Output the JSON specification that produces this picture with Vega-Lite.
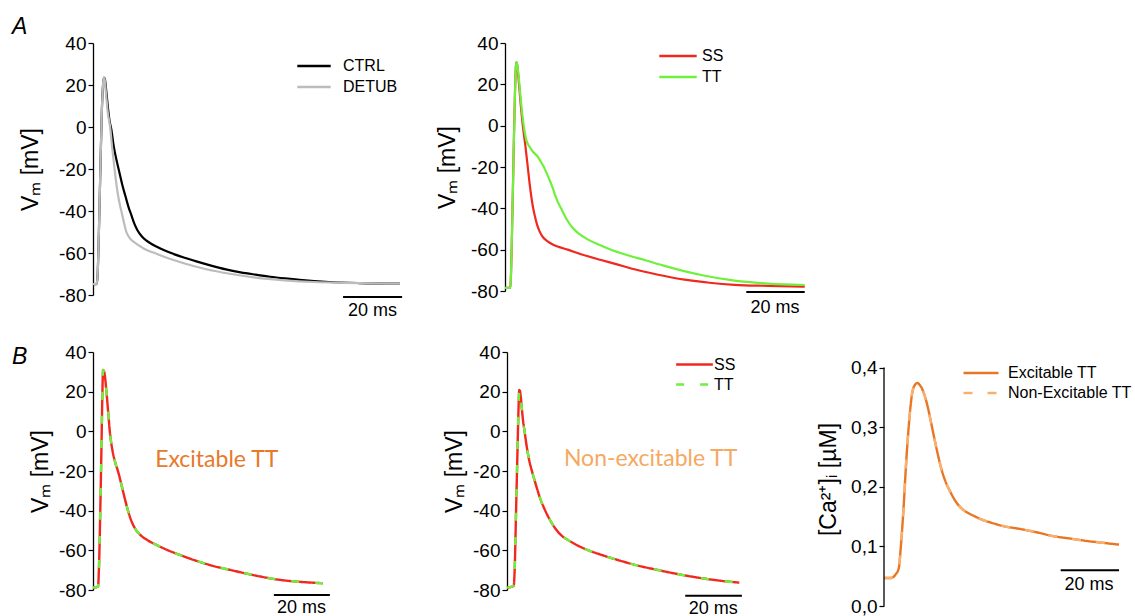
{
  "$schema": "https://vega.github.io/schema/vega-lite/v6.json",
  "padding": {"left": 12, "top": 16, "right": 0, "bottom": 0},
  "background": "white",
  "config": {
    "view": {"stroke": null},
    "axis": {
      "labelFont": "Liberation Sans", "labelFontSize": 19, "labelColor": "#000", "labelOverlap": false,
      "titleFont": "Liberation Sans", "titleFontSize": 23, "titleFontWeight": "normal", "titleColor": "#000",
      "domainColor": "#000", "domainWidth": 1.3, "tickColor": "#000", "tickWidth": 1.2, "tickSize": 5,
      "labelPadding": 2, "grid": false
    },
    "legend": {
      "labelFont": "Liberation Sans", "labelFontSize": 16, "labelColor": "#000",
      "symbolStrokeWidth": 2.5, "padding": 0, "offset": 0, "title": null
    },
    "title": {"font": "Liberation Sans", "fontSize": 23, "fontStyle": "italic", "fontWeight": "normal", "color": "#000", "anchor": "start", "frame": "group", "offset": 0, "baseline": "alphabetic"}
  },
  "datasets": {
    "a1": [
      {"series": "CTRL", "t": 0, "v": -74.8}, {"series": "CTRL", "t": 1.2, "v": -74.8}, {"series": "CTRL", "t": 1.5, "v": -72}, {"series": "CTRL", "t": 2.0, "v": -50}, {"series": "CTRL", "t": 2.5, "v": -20}, {"series": "CTRL", "t": 3.0, "v": 8}, {"series": "CTRL", "t": 3.4, "v": 20}, {"series": "CTRL", "t": 3.7, "v": 23.5}, {"series": "CTRL", "t": 4.0, "v": 23}, {"series": "CTRL", "t": 4.5, "v": 17}, {"series": "CTRL", "t": 5.0, "v": 10}, {"series": "CTRL", "t": 5.6, "v": 3}, {"series": "CTRL", "t": 6.2, "v": -1}, {"series": "CTRL", "t": 7.0, "v": -9}, {"series": "CTRL", "t": 8.0, "v": -16}, {"series": "CTRL", "t": 9.0, "v": -22}, {"series": "CTRL", "t": 10.0, "v": -28}, {"series": "CTRL", "t": 11.0, "v": -33}, {"series": "CTRL", "t": 12.0, "v": -38}, {"series": "CTRL", "t": 13.0, "v": -42}, {"series": "CTRL", "t": 14.0, "v": -46}, {"series": "CTRL", "t": 15.0, "v": -49}, {"series": "CTRL", "t": 16.5, "v": -52}, {"series": "CTRL", "t": 18.0, "v": -54}, {"series": "CTRL", "t": 20.0, "v": -55.8}, {"series": "CTRL", "t": 23.0, "v": -58}, {"series": "CTRL", "t": 26.0, "v": -59.8}, {"series": "CTRL", "t": 30.0, "v": -61.8}, {"series": "CTRL", "t": 35.0, "v": -64}, {"series": "CTRL", "t": 40.0, "v": -66}, {"series": "CTRL", "t": 45.0, "v": -67.8}, {"series": "CTRL", "t": 50.0, "v": -69.2}, {"series": "CTRL", "t": 55.0, "v": -70.3}, {"series": "CTRL", "t": 60.0, "v": -71.3}, {"series": "CTRL", "t": 65.0, "v": -72.1}, {"series": "CTRL", "t": 70.0, "v": -72.8}, {"series": "CTRL", "t": 80.0, "v": -73.8}, {"series": "CTRL", "t": 90.0, "v": -74.3}, {"series": "CTRL", "t": 104.0, "v": -74.6},
      {"series": "DETUB", "t": 0, "v": -74.8}, {"series": "DETUB", "t": 1.2, "v": -74.8}, {"series": "DETUB", "t": 1.5, "v": -72}, {"series": "DETUB", "t": 2.0, "v": -50}, {"series": "DETUB", "t": 2.5, "v": -20}, {"series": "DETUB", "t": 3.0, "v": 8}, {"series": "DETUB", "t": 3.4, "v": 20}, {"series": "DETUB", "t": 3.6, "v": 23.5}, {"series": "DETUB", "t": 3.9, "v": 23}, {"series": "DETUB", "t": 4.4, "v": 16}, {"series": "DETUB", "t": 5.0, "v": 7}, {"series": "DETUB", "t": 5.8, "v": 0}, {"series": "DETUB", "t": 6.5, "v": -10}, {"series": "DETUB", "t": 7.3, "v": -20}, {"series": "DETUB", "t": 8.0, "v": -28}, {"series": "DETUB", "t": 8.8, "v": -35}, {"series": "DETUB", "t": 9.6, "v": -40}, {"series": "DETUB", "t": 10.4, "v": -45}, {"series": "DETUB", "t": 11.3, "v": -50}, {"series": "DETUB", "t": 12.5, "v": -53}, {"series": "DETUB", "t": 14.1, "v": -55}, {"series": "DETUB", "t": 16.0, "v": -56.8}, {"series": "DETUB", "t": 18.0, "v": -58.5}, {"series": "DETUB", "t": 20.9, "v": -60}, {"series": "DETUB", "t": 25.0, "v": -62.3}, {"series": "DETUB", "t": 31.0, "v": -65}, {"series": "DETUB", "t": 38.0, "v": -67.6}, {"series": "DETUB", "t": 46.9, "v": -70}, {"series": "DETUB", "t": 55.0, "v": -71.7}, {"series": "DETUB", "t": 65.0, "v": -73}, {"series": "DETUB", "t": 75.0, "v": -73.8}, {"series": "DETUB", "t": 85.0, "v": -74.2}, {"series": "DETUB", "t": 104.0, "v": -74.6}
    ],
    "a2": [
      {"series": "SS", "t": 0, "v": -78.5}, {"series": "SS", "t": 1.8, "v": -78.5}, {"series": "SS", "t": 2.0, "v": -74}, {"series": "SS", "t": 2.5, "v": -45}, {"series": "SS", "t": 3.0, "v": -10}, {"series": "SS", "t": 3.4, "v": 15}, {"series": "SS", "t": 3.7, "v": 28}, {"series": "SS", "t": 3.9, "v": 30.8}, {"series": "SS", "t": 4.2, "v": 29}, {"series": "SS", "t": 4.8, "v": 20}, {"series": "SS", "t": 5.4, "v": 10}, {"series": "SS", "t": 6.1, "v": 0}, {"series": "SS", "t": 7.0, "v": -10}, {"series": "SS", "t": 7.8, "v": -20}, {"series": "SS", "t": 8.6, "v": -30}, {"series": "SS", "t": 9.4, "v": -38}, {"series": "SS", "t": 10.1, "v": -43}, {"series": "SS", "t": 11.0, "v": -48}, {"series": "SS", "t": 11.8, "v": -51}, {"series": "SS", "t": 13.0, "v": -54}, {"series": "SS", "t": 14.6, "v": -56}, {"series": "SS", "t": 16.5, "v": -57.6}, {"series": "SS", "t": 18.0, "v": -58.5}, {"series": "SS", "t": 21.5, "v": -60}, {"series": "SS", "t": 26.0, "v": -62.2}, {"series": "SS", "t": 32.9, "v": -65}, {"series": "SS", "t": 38.0, "v": -67}, {"series": "SS", "t": 44.3, "v": -69.5}, {"series": "SS", "t": 52.0, "v": -72}, {"series": "SS", "t": 61.5, "v": -74.5}, {"series": "SS", "t": 70.0, "v": -76}, {"series": "SS", "t": 78.6, "v": -77}, {"series": "SS", "t": 90.0, "v": -77.5}, {"series": "SS", "t": 102.6, "v": -77.9},
      {"series": "TT", "t": 0, "v": -78.5}, {"series": "TT", "t": 1.8, "v": -78.5}, {"series": "TT", "t": 2.0, "v": -74}, {"series": "TT", "t": 2.5, "v": -45}, {"series": "TT", "t": 3.0, "v": -10}, {"series": "TT", "t": 3.4, "v": 15}, {"series": "TT", "t": 3.7, "v": 28}, {"series": "TT", "t": 3.9, "v": 30.8}, {"series": "TT", "t": 4.2, "v": 29.5}, {"series": "TT", "t": 4.8, "v": 22}, {"series": "TT", "t": 5.5, "v": 11}, {"series": "TT", "t": 6.4, "v": 0}, {"series": "TT", "t": 7.3, "v": -7}, {"series": "TT", "t": 8.3, "v": -10}, {"series": "TT", "t": 9.5, "v": -12.5}, {"series": "TT", "t": 11.2, "v": -15}, {"series": "TT", "t": 12.3, "v": -17.5}, {"series": "TT", "t": 13.3, "v": -20}, {"series": "TT", "t": 14.1, "v": -22.5}, {"series": "TT", "t": 14.9, "v": -25}, {"series": "TT", "t": 15.6, "v": -27.5}, {"series": "TT", "t": 16.3, "v": -30}, {"series": "TT", "t": 17.0, "v": -33}, {"series": "TT", "t": 17.8, "v": -36}, {"series": "TT", "t": 19.2, "v": -40}, {"series": "TT", "t": 21.2, "v": -45.5}, {"series": "TT", "t": 23.2, "v": -49.5}, {"series": "TT", "t": 25.5, "v": -52.5}, {"series": "TT", "t": 28.3, "v": -55}, {"series": "TT", "t": 32.0, "v": -57.5}, {"series": "TT", "t": 36.3, "v": -60}, {"series": "TT", "t": 42.0, "v": -62.7}, {"series": "TT", "t": 47.8, "v": -65}, {"series": "TT", "t": 54.0, "v": -67.6}, {"series": "TT", "t": 60.3, "v": -70}, {"series": "TT", "t": 68.0, "v": -72.5}, {"series": "TT", "t": 78.6, "v": -75}, {"series": "TT", "t": 90.0, "v": -76.4}, {"series": "TT", "t": 102.6, "v": -77.1}
    ],
    "b1": [
      {"series": "SS", "t": 0, "v": -78.8}, {"series": "SS", "t": 1.8, "v": -78.3}, {"series": "SS", "t": 2.1, "v": -70}, {"series": "SS", "t": 2.6, "v": -40}, {"series": "SS", "t": 3.0, "v": -10}, {"series": "SS", "t": 3.3, "v": 15}, {"series": "SS", "t": 3.6, "v": 30.9}, {"series": "SS", "t": 4.0, "v": 30}, {"series": "SS", "t": 4.8, "v": 20}, {"series": "SS", "t": 5.4, "v": 10}, {"series": "SS", "t": 6.0, "v": 0}, {"series": "SS", "t": 7.0, "v": -10}, {"series": "SS", "t": 8.0, "v": -16}, {"series": "SS", "t": 8.9, "v": -20}, {"series": "SS", "t": 10.0, "v": -26}, {"series": "SS", "t": 11.2, "v": -33}, {"series": "SS", "t": 12.5, "v": -40}, {"series": "SS", "t": 13.8, "v": -45.5}, {"series": "SS", "t": 15.5, "v": -50}, {"series": "SS", "t": 17.5, "v": -53}, {"series": "SS", "t": 19.6, "v": -55}, {"series": "SS", "t": 23.0, "v": -57.5}, {"series": "SS", "t": 26.8, "v": -60}, {"series": "SS", "t": 31.0, "v": -62.3}, {"series": "SS", "t": 36.3, "v": -65}, {"series": "SS", "t": 42.5, "v": -67.7}, {"series": "SS", "t": 49.4, "v": -70}, {"series": "SS", "t": 58.0, "v": -72.7}, {"series": "SS", "t": 67.3, "v": -75}, {"series": "SS", "t": 75.0, "v": -76}, {"series": "SS", "t": 82.1, "v": -76.6},
      {"series": "TT", "t": 0, "v": -78.8}, {"series": "TT", "t": 1.8, "v": -78.3}, {"series": "TT", "t": 2.1, "v": -70}, {"series": "TT", "t": 2.6, "v": -40}, {"series": "TT", "t": 3.0, "v": -10}, {"series": "TT", "t": 3.3, "v": 15}, {"series": "TT", "t": 3.6, "v": 30.9}, {"series": "TT", "t": 4.0, "v": 30}, {"series": "TT", "t": 4.8, "v": 20}, {"series": "TT", "t": 5.4, "v": 10}, {"series": "TT", "t": 6.0, "v": 0}, {"series": "TT", "t": 7.0, "v": -10}, {"series": "TT", "t": 8.0, "v": -16}, {"series": "TT", "t": 8.9, "v": -20}, {"series": "TT", "t": 10.0, "v": -26}, {"series": "TT", "t": 11.2, "v": -33}, {"series": "TT", "t": 12.5, "v": -40}, {"series": "TT", "t": 13.8, "v": -45.5}, {"series": "TT", "t": 15.5, "v": -50}, {"series": "TT", "t": 17.5, "v": -53}, {"series": "TT", "t": 19.6, "v": -55}, {"series": "TT", "t": 23.0, "v": -57.5}, {"series": "TT", "t": 26.8, "v": -60}, {"series": "TT", "t": 31.0, "v": -62.3}, {"series": "TT", "t": 36.3, "v": -65}, {"series": "TT", "t": 42.5, "v": -67.7}, {"series": "TT", "t": 49.4, "v": -70}, {"series": "TT", "t": 58.0, "v": -72.7}, {"series": "TT", "t": 67.3, "v": -75}, {"series": "TT", "t": 75.0, "v": -76}, {"series": "TT", "t": 82.1, "v": -76.6}
    ],
    "b2": [
      {"series": "SS", "t": 0, "v": -78.8}, {"series": "SS", "t": 2.35, "v": -78}, {"series": "SS", "t": 2.7, "v": -70}, {"series": "SS", "t": 3.2, "v": -40}, {"series": "SS", "t": 3.7, "v": -10}, {"series": "SS", "t": 4.0, "v": 8}, {"series": "SS", "t": 4.35, "v": 20.9}, {"series": "SS", "t": 4.7, "v": 19.5}, {"series": "SS", "t": 5.2, "v": 12}, {"series": "SS", "t": 5.7, "v": 5}, {"series": "SS", "t": 6.2, "v": 0}, {"series": "SS", "t": 7.0, "v": -8}, {"series": "SS", "t": 7.9, "v": -15}, {"series": "SS", "t": 8.8, "v": -20}, {"series": "SS", "t": 10.0, "v": -26}, {"series": "SS", "t": 11.5, "v": -33}, {"series": "SS", "t": 13.5, "v": -40}, {"series": "SS", "t": 15.5, "v": -45.5}, {"series": "SS", "t": 17.6, "v": -50}, {"series": "SS", "t": 19.6, "v": -53}, {"series": "SS", "t": 21.8, "v": -55}, {"series": "SS", "t": 25.0, "v": -57.6}, {"series": "SS", "t": 28.8, "v": -60}, {"series": "SS", "t": 34.0, "v": -62.6}, {"series": "SS", "t": 39.4, "v": -65}, {"series": "SS", "t": 46.0, "v": -67.6}, {"series": "SS", "t": 53.5, "v": -70}, {"series": "SS", "t": 63.0, "v": -72.7}, {"series": "SS", "t": 73.5, "v": -75}, {"series": "SS", "t": 82.0, "v": -76.3},
      {"series": "TT", "t": 0, "v": -78.8}, {"series": "TT", "t": 2.35, "v": -78}, {"series": "TT", "t": 2.7, "v": -70}, {"series": "TT", "t": 3.2, "v": -40}, {"series": "TT", "t": 3.7, "v": -10}, {"series": "TT", "t": 4.0, "v": 8}, {"series": "TT", "t": 4.35, "v": 20.9}, {"series": "TT", "t": 4.7, "v": 19.5}, {"series": "TT", "t": 5.2, "v": 12}, {"series": "TT", "t": 5.7, "v": 5}, {"series": "TT", "t": 6.2, "v": 0}, {"series": "TT", "t": 7.0, "v": -8}, {"series": "TT", "t": 7.9, "v": -15}, {"series": "TT", "t": 8.8, "v": -20}, {"series": "TT", "t": 10.0, "v": -26}, {"series": "TT", "t": 11.5, "v": -33}, {"series": "TT", "t": 13.5, "v": -40}, {"series": "TT", "t": 15.5, "v": -45.5}, {"series": "TT", "t": 17.6, "v": -50}, {"series": "TT", "t": 19.6, "v": -53}, {"series": "TT", "t": 21.8, "v": -55}, {"series": "TT", "t": 25.0, "v": -57.6}, {"series": "TT", "t": 28.8, "v": -60}, {"series": "TT", "t": 34.0, "v": -62.6}, {"series": "TT", "t": 39.4, "v": -65}, {"series": "TT", "t": 46.0, "v": -67.6}, {"series": "TT", "t": 53.5, "v": -70}, {"series": "TT", "t": 63.0, "v": -72.7}, {"series": "TT", "t": 73.5, "v": -75}, {"series": "TT", "t": 82.0, "v": -76.3}
    ],
    "b3": [
      {"series": "Excitable TT", "t": 0, "v": 0.047}, {"series": "Excitable TT", "t": 2.3, "v": 0.047}, {"series": "Excitable TT", "t": 4.0, "v": 0.053}, {"series": "Excitable TT", "t": 5.1, "v": 0.064}, {"series": "Excitable TT", "t": 5.7, "v": 0.095}, {"series": "Excitable TT", "t": 6.3, "v": 0.134}, {"series": "Excitable TT", "t": 6.9, "v": 0.18}, {"series": "Excitable TT", "t": 7.4, "v": 0.224}, {"series": "Excitable TT", "t": 8.0, "v": 0.27}, {"series": "Excitable TT", "t": 8.6, "v": 0.308}, {"series": "Excitable TT", "t": 9.1, "v": 0.335}, {"series": "Excitable TT", "t": 9.7, "v": 0.358}, {"series": "Excitable TT", "t": 10.5, "v": 0.37}, {"series": "Excitable TT", "t": 11.4, "v": 0.374}, {"series": "Excitable TT", "t": 12.2, "v": 0.371}, {"series": "Excitable TT", "t": 13.1, "v": 0.364}, {"series": "Excitable TT", "t": 14.0, "v": 0.352}, {"series": "Excitable TT", "t": 14.9, "v": 0.336}, {"series": "Excitable TT", "t": 16.0, "v": 0.311}, {"series": "Excitable TT", "t": 17.1, "v": 0.285}, {"series": "Excitable TT", "t": 18.2, "v": 0.26}, {"series": "Excitable TT", "t": 19.4, "v": 0.235}, {"series": "Excitable TT", "t": 21.0, "v": 0.21}, {"series": "Excitable TT", "t": 22.9, "v": 0.19}, {"series": "Excitable TT", "t": 24.5, "v": 0.176}, {"series": "Excitable TT", "t": 26.3, "v": 0.165}, {"series": "Excitable TT", "t": 28.5, "v": 0.157}, {"series": "Excitable TT", "t": 30.9, "v": 0.151}, {"series": "Excitable TT", "t": 33.5, "v": 0.145}, {"series": "Excitable TT", "t": 36.6, "v": 0.14}, {"series": "Excitable TT", "t": 41.0, "v": 0.134}, {"series": "Excitable TT", "t": 46.9, "v": 0.129}, {"series": "Excitable TT", "t": 52.0, "v": 0.124}, {"series": "Excitable TT", "t": 58.3, "v": 0.117}, {"series": "Excitable TT", "t": 64.0, "v": 0.113}, {"series": "Excitable TT", "t": 69.7, "v": 0.109}, {"series": "Excitable TT", "t": 75.0, "v": 0.106}, {"series": "Excitable TT", "t": 80.6, "v": 0.103},
      {"series": "Non-Excitable TT", "t": 0, "v": 0.047}, {"series": "Non-Excitable TT", "t": 2.3, "v": 0.047}, {"series": "Non-Excitable TT", "t": 4.0, "v": 0.053}, {"series": "Non-Excitable TT", "t": 5.1, "v": 0.064}, {"series": "Non-Excitable TT", "t": 5.7, "v": 0.095}, {"series": "Non-Excitable TT", "t": 6.3, "v": 0.134}, {"series": "Non-Excitable TT", "t": 6.9, "v": 0.18}, {"series": "Non-Excitable TT", "t": 7.4, "v": 0.224}, {"series": "Non-Excitable TT", "t": 8.0, "v": 0.27}, {"series": "Non-Excitable TT", "t": 8.6, "v": 0.308}, {"series": "Non-Excitable TT", "t": 9.1, "v": 0.335}, {"series": "Non-Excitable TT", "t": 9.7, "v": 0.358}, {"series": "Non-Excitable TT", "t": 10.5, "v": 0.368}, {"series": "Non-Excitable TT", "t": 11.4, "v": 0.372}, {"series": "Non-Excitable TT", "t": 12.2, "v": 0.37}, {"series": "Non-Excitable TT", "t": 13.1, "v": 0.363}, {"series": "Non-Excitable TT", "t": 14.0, "v": 0.352}, {"series": "Non-Excitable TT", "t": 14.9, "v": 0.336}, {"series": "Non-Excitable TT", "t": 16.0, "v": 0.311}, {"series": "Non-Excitable TT", "t": 17.1, "v": 0.285}, {"series": "Non-Excitable TT", "t": 18.2, "v": 0.26}, {"series": "Non-Excitable TT", "t": 19.4, "v": 0.235}, {"series": "Non-Excitable TT", "t": 21.0, "v": 0.21}, {"series": "Non-Excitable TT", "t": 22.9, "v": 0.19}, {"series": "Non-Excitable TT", "t": 24.5, "v": 0.176}, {"series": "Non-Excitable TT", "t": 26.3, "v": 0.165}, {"series": "Non-Excitable TT", "t": 28.5, "v": 0.157}, {"series": "Non-Excitable TT", "t": 30.9, "v": 0.151}, {"series": "Non-Excitable TT", "t": 33.5, "v": 0.145}, {"series": "Non-Excitable TT", "t": 36.6, "v": 0.14}, {"series": "Non-Excitable TT", "t": 41.0, "v": 0.134}, {"series": "Non-Excitable TT", "t": 46.9, "v": 0.129}, {"series": "Non-Excitable TT", "t": 52.0, "v": 0.124}, {"series": "Non-Excitable TT", "t": 58.3, "v": 0.117}, {"series": "Non-Excitable TT", "t": 64.0, "v": 0.113}, {"series": "Non-Excitable TT", "t": 69.7, "v": 0.109}, {"series": "Non-Excitable TT", "t": 75.0, "v": 0.106}, {"series": "Non-Excitable TT", "t": 80.6, "v": 0.103}
    ]
  },
  "resolve": {"scale": {"color": "independent", "strokeDash": "independent"}},
  "spacing": 22,
  "vconcat": [
    {
      "spacing": 31,
      "resolve": {"scale": {"color": "independent", "strokeDash": "independent"}},
      "hconcat": [
        {
          "width": 310, "height": 252,
          "title": {"text": "A", "dx": -81, "dy": 9},
          "layer": [
            {
              "data": {"name": "a1"},
              "mark": {"type": "line", "strokeWidth": 2.2, "interpolate": "monotone"},
              "encoding": {
                "x": {"field": "t", "type": "quantitative", "scale": {"domain": [0, 105], "nice": false, "zero": false}, "axis": null},
                "y": {"field": "v", "type": "quantitative", "scale": {"domain": [-80, 40], "nice": false}, "axis": {"values": [-80, -60, -40, -20, 0, 20, 40], "tickCount": 20, "labelOverlap": false, "labelExpr": "'' + datum.value", "title": "Vₘ [mV]", "titlePadding": 16}},
                "color": {"field": "series", "type": "nominal", "scale": {"domain": ["CTRL", "DETUB"], "range": ["#000000", "#bcbcbc"]},
                  "legend": {"orient": "none", "legendX": 211, "legendY": 13, "symbolSize": 279, "labelOffset": 19, "rowPadding": 3, "symbolType": "M-2,0H2"}}
              }
            },
            {
              "data": {"values": [{}]},
              "mark": {"type": "rule", "color": "#000", "strokeWidth": 2},
              "encoding": {"x": {"datum": 84.7}, "x2": {"datum": 104.7}, "y": {"datum": -81}}
            },
            {
              "data": {"values": [{}]},
              "mark": {"type": "text", "text": "20 ms", "font": "Liberation Sans", "fontSize": 18, "baseline": "top", "align": "center", "dy": 5, "color": "#000"},
              "encoding": {"x": {"datum": 94.7}, "y": {"datum": -81}}
            }
          ]
        },
        {
          "width": 300, "height": 248,
          "layer": [
            {
              "data": {"name": "a2"},
              "mark": {"type": "line", "strokeWidth": 2.2, "interpolate": "monotone"},
              "encoding": {
                "x": {"field": "t", "type": "quantitative", "scale": {"domain": [0, 102.7], "nice": false, "zero": false}, "axis": null},
                "y": {"field": "v", "type": "quantitative", "scale": {"domain": [-80, 40], "nice": false}, "axis": {"values": [-80, -60, -40, -20, 0, 20, 40], "tickCount": 20, "labelOverlap": false, "labelExpr": "'' + datum.value", "title": "Vₘ [mV]", "titlePadding": 11}},
                "color": {"field": "series", "type": "nominal", "scale": {"domain": ["SS", "TT"], "range": ["#f0281e", "#6ef03c"]},
                  "legend": {"orient": "none", "legendX": 162, "legendY": 2, "symbolSize": 350, "labelOffset": 13, "rowPadding": 2, "symbolType": "M-2,0H2"}}
              }
            },
            {
              "data": {"values": [{}]},
              "mark": {"type": "rule", "color": "#000", "strokeWidth": 2},
              "encoding": {"x": {"datum": 82.6}, "x2": {"datum": 102.6}, "y": {"datum": -80.5}}
            },
            {
              "data": {"values": [{}]},
              "mark": {"type": "text", "text": "20 ms", "font": "Liberation Sans", "fontSize": 18, "baseline": "top", "align": "center", "dy": 7, "color": "#000"},
              "encoding": {"x": {"datum": 92.4}, "y": {"datum": -80.5}}
            }
          ]
        }
      ]
    },
    {
      "spacing": 70,
      "resolve": {"scale": {"color": "independent", "strokeDash": "independent"}},
      "hconcat": [
        {
          "width": 280, "height": 238,
          "title": {"text": "B", "dx": -81, "dy": 30},
          "layer": [
            {
              "data": {"name": "b1"},
              "transform": [{"filter": "datum.series === 'SS'"}],
              "mark": {"type": "line", "strokeWidth": 2.4, "interpolate": "monotone"},
              "encoding": {
                "x": {"field": "t", "type": "quantitative", "scale": {"domain": [0, 100], "nice": false, "zero": false}, "axis": null},
                "y": {"field": "v", "type": "quantitative", "scale": {"domain": [-80, 40], "nice": false}, "axis": {"values": [-80, -60, -40, -20, 0, 20, 40], "tickCount": 20, "labelOverlap": false, "labelExpr": "'' + datum.value", "title": "Vₘ [mV]", "titlePadding": 6}},
                "color": {"field": "series", "type": "nominal", "scale": {"domain": ["SS", "TT"], "range": ["#f0281e", "#6ef03c"]}, "legend": null},
                "strokeDash": {"field": "series", "type": "nominal", "scale": {"domain": ["SS", "TT"], "range": [[1, 0], [8, 16]]}, "legend": null}
              }
            },
            {
              "data": {"name": "b1"},
              "transform": [{"filter": "datum.series === 'TT'"}],
              "mark": {"type": "line", "strokeWidth": 2.4, "interpolate": "monotone"},
              "encoding": {
                "x": {"field": "t", "type": "quantitative"},
                "y": {"field": "v", "type": "quantitative"},
                "color": {"field": "series", "type": "nominal", "legend": null},
                "strokeDash": {"field": "series", "type": "nominal", "legend": null}
              }
            },
            {
              "data": {"values": [{}]},
              "mark": {"type": "rule", "color": "#000", "strokeWidth": 2},
              "encoding": {"x": {"datum": 64.6}, "x2": {"datum": 84.6}, "y": {"datum": -82.5}}
            },
            {
              "data": {"values": [{}]},
              "mark": {"type": "text", "text": "20 ms", "font": "Liberation Sans", "fontSize": 18, "baseline": "top", "align": "center", "dy": 4, "color": "#000"},
              "encoding": {"x": {"datum": 74.5}, "y": {"datum": -82.5}}
            },
            {
              "data": {"values": [{}]},
              "mark": {"type": "text", "text": "Excitable TT", "font": "Lato", "fontSize": 23, "baseline": "alphabetic", "align": "center", "color": "#e8782a"},
              "encoding": {"x": {"datum": 44.2}, "y": {"datum": -18.1}}
            }
          ]
        },
        {
          "width": 240, "height": 238,
          "layer": [
            {
              "data": {"name": "b2"},
              "transform": [{"filter": "datum.series === 'SS'"}],
              "mark": {"type": "line", "strokeWidth": 2.4, "interpolate": "monotone"},
              "encoding": {
                "x": {"field": "t", "type": "quantitative", "scale": {"domain": [0, 84.7], "nice": false, "zero": false}, "axis": null},
                "y": {"field": "v", "type": "quantitative", "scale": {"domain": [-80, 40], "nice": false}, "axis": {"values": [-80, -60, -40, -20, 0, 20, 40], "tickCount": 20, "labelOverlap": false, "labelExpr": "'' + datum.value", "title": "Vₘ [mV]", "titlePadding": 6}},
                "color": {"field": "series", "type": "nominal", "scale": {"domain": ["SS", "TT"], "range": ["#f0281e", "#6ef03c"]},
                  "legend": {"orient": "none", "legendX": 177, "legendY": 2, "symbolSize": 337, "labelOffset": 9, "rowPadding": 1, "symbolType": "M-2,0H2"}},
                "strokeDash": {"field": "series", "type": "nominal", "scale": {"domain": ["SS", "TT"], "range": [[1, 0], [8, 16]]},
                  "legend": {"orient": "none", "legendX": 177, "legendY": 2, "symbolSize": 337, "labelOffset": 9, "rowPadding": 1, "symbolType": "M-2,0H2"}}
              }
            },
            {
              "data": {"name": "b2"},
              "transform": [{"filter": "datum.series === 'TT'"}],
              "mark": {"type": "line", "strokeWidth": 2.4, "interpolate": "monotone"},
              "encoding": {
                "x": {"field": "t", "type": "quantitative"},
                "y": {"field": "v", "type": "quantitative"},
                "color": {"field": "series", "type": "nominal"},
                "strokeDash": {"field": "series", "type": "nominal"}
              }
            },
            {
              "data": {"values": [{}]},
              "mark": {"type": "rule", "color": "#000", "strokeWidth": 2},
              "encoding": {"x": {"datum": 62.9}, "x2": {"datum": 82.9}, "y": {"datum": -82.9}}
            },
            {
              "data": {"values": [{}]},
              "mark": {"type": "text", "text": "20 ms", "font": "Liberation Sans", "fontSize": 18, "baseline": "top", "align": "center", "dy": 4, "color": "#000"},
              "encoding": {"x": {"datum": 72.8}, "y": {"datum": -82.9}}
            },
            {
              "data": {"values": [{}]},
              "mark": {"type": "text", "text": "Non-excitable TT", "font": "Lato", "fontSize": 23, "baseline": "alphabetic", "align": "center", "color": "#f5a962"},
              "encoding": {"x": {"datum": 50.7}, "y": {"datum": -17.6}}
            }
          ]
        },
        {
          "width": 235, "height": 254,
          "layer": [
            {
              "data": {"name": "b3"},
              "transform": [{"filter": "datum.series === 'Excitable TT'"}],
              "mark": {"type": "line", "strokeWidth": 2.4, "interpolate": "monotone"},
              "encoding": {
                "x": {"field": "t", "type": "quantitative", "scale": {"domain": [0, 80.6], "nice": false, "zero": false}, "axis": null},
                "y": {"field": "v", "type": "quantitative", "scale": {"domain": [0, 0.426], "nice": false}, "axis": {"values": [0, 0.1, 0.2, 0.3, 0.4], "tickCount": 20, "labelOverlap": false, "domain": false, "labelExpr": "replace(format(datum.value, '.1f'), '.', ',')", "title": "[Ca²⁺]ᵢ [µM]", "titlePadding": 10}},
                "color": {"field": "series", "type": "nominal", "scale": {"domain": ["Excitable TT", "Non-Excitable TT"], "range": ["#e87622", "#f8b070"]},
                  "legend": {"orient": "none", "legendX": 87, "legendY": 11, "symbolSize": 306, "labelOffset": 17, "rowPadding": 2, "symbolType": "M-2,0H2"}},
                "strokeDash": {"field": "series", "type": "nominal", "scale": {"domain": ["Excitable TT", "Non-Excitable TT"], "range": [[1, 0], [9, 15]]},
                  "legend": {"orient": "none", "legendX": 87, "legendY": 11, "symbolSize": 306, "labelOffset": 17, "rowPadding": 2, "symbolType": "M-2,0H2"}}
              }
            },
            {
              "data": {"name": "b3"},
              "transform": [{"filter": "datum.series === 'Non-Excitable TT'"}],
              "mark": {"type": "line", "strokeWidth": 2.4, "interpolate": "monotone"},
              "encoding": {
                "x": {"field": "t", "type": "quantitative"},
                "y": {"field": "v", "type": "quantitative"},
                "color": {"field": "series", "type": "nominal"},
                "strokeDash": {"field": "series", "type": "nominal"}
              }
            },
            {
              "data": {"values": [{}]},
              "mark": {"type": "rule", "color": "#000", "strokeWidth": 1.3},
              "encoding": {"x": {"datum": 0}, "y": {"datum": 0}, "y2": {"datum": 0.4}}
            },
            {
              "data": {"values": [{}]},
              "mark": {"type": "rule", "color": "#000", "strokeWidth": 2},
              "encoding": {"x": {"datum": 60.6}, "x2": {"datum": 80.6}, "y": {"datum": 0.06}}
            },
            {
              "data": {"values": [{}]},
              "mark": {"type": "text", "text": "20 ms", "font": "Liberation Sans", "fontSize": 18, "baseline": "top", "align": "center", "dy": 6, "color": "#000"},
              "encoding": {"x": {"datum": 70.3}, "y": {"datum": 0.06}}
            }
          ]
        }
      ]
    }
  ]
}
